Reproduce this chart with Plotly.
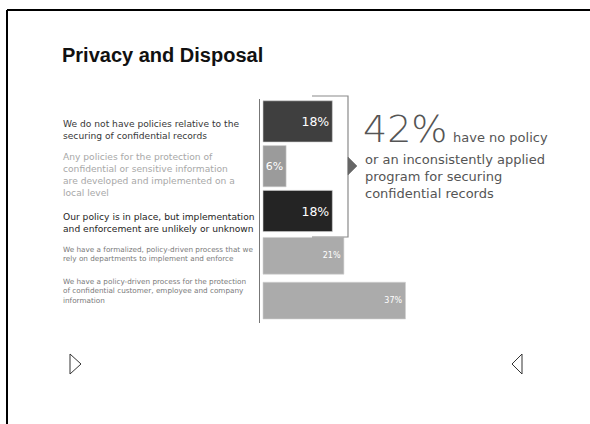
import plotly.graph_objects as go

W, H = 590, 424

# Survey responses, top to bottom
categories = [
    "We do not have policies relative to the<br>securing of confidential records",
    "Any policies for the protection of<br>confidential or sensitive information<br>are developed and implemented on a<br>local level",
    "Our policy is in place, but implementation<br>and enforcement are unlikely or unknown",
    "We have a formalized, policy-driven process that we<br>rely on departments to implement and enforce",
    "We have a policy-driven process for the protection<br>of confidential customer, employee and company<br>information",
]
shares = [18, 6, 18, 21, 37]
value_labels = ["18%", "6%", "18%", "21%", "37%"]

headline_value = "42%"
headline_text = "have no policy"
headline_rest = "or an inconsistently applied<br>program for securing<br>confidential records"

# Styling per bar
bar_colors = ["#3f3f3f", "#9b9b9b", "#242424", "#ababab", "#ababab"]
bar_widths = [0.92, 0.92, 0.92, 0.82, 0.82]
value_sizes = [12.5, 11, 12.5, 8, 8]
label_colors = ["#383838", "#a8a8a8", "#1e1e1e", "#7a7a7a", "#7a7a7a"]
label_sizes = [9.15, 9.15, 9.15, 7.25, 7.25]
label_centers_px = [130, 175.5, 222.5, 254, 291]

FONT = "DejaVu Sans"


def px(x):
    return x / W


def py(y):
    return 1 - y / H


fig = go.Figure()
fig.add_trace(go.Bar(
    x=shares,
    y=list(range(len(categories))),
    orientation="h",
    width=bar_widths,
    marker=dict(color=bar_colors, line=dict(color="#d0d0d0", width=0.6)),
    text=value_labels,
    textposition="inside",
    insidetextanchor="end",
    textangle=0,
    constraintext="none",
    textfont=dict(family=FONT, color="white", size=value_sizes),
    hoverinfo="skip",
    cliponaxis=False,
))

annotations = []
for text, color, size, cy in zip(categories, label_colors, label_sizes, label_centers_px):
    annotations.append(dict(
        x=px(61), y=py(cy), xref="paper", yref="paper",
        xanchor="left", yanchor="middle", align="left",
        text=text, showarrow=False,
        font=dict(family=FONT, size=size, color=color),
    ))

# Title
annotations.append(dict(
    x=px(60), y=py(55), xref="paper", yref="paper",
    xanchor="left", yanchor="middle",
    text="<b>Privacy and Disposal</b>", showarrow=False,
    font=dict(family="Liberation Sans", size=20, color="#111111"),
))

# Headline callout
annotations.append(dict(
    x=px(361), y=py(129), xref="paper", yref="paper",
    xanchor="left", yanchor="middle",
    text=headline_value, showarrow=False,
    font=dict(family=FONT, size=38, color="#555555", weight=200),
))
annotations.append(dict(
    x=px(451), y=py(137), xref="paper", yref="paper",
    xanchor="left", yanchor="middle",
    text=headline_text, showarrow=False,
    font=dict(family=FONT, size=13, color="#555555"),
))
annotations.append(dict(
    x=px(363), y=py(176.5), xref="paper", yref="paper",
    xanchor="left", yanchor="middle", align="left",
    text=headline_rest, showarrow=False,
    font=dict(family=FONT, size=13, color="#555555"),
))

shapes = []
# Frame lines
shapes.append(dict(type="line", xref="paper", yref="paper",
                   x0=px(7), x1=1, y0=py(10), y1=py(10),
                   line=dict(color="black", width=2)))
shapes.append(dict(type="line", xref="paper", yref="paper",
                   x0=px(7), x1=px(7), y0=py(10), y1=0,
                   line=dict(color="black", width=2)))
# Bracket around the first three responses
shapes.append(dict(type="path", xref="paper", yref="paper",
                   path=f"M {px(312)},{py(96)} L {px(348)},{py(96)} L {px(348)},{py(237)} L {px(312)},{py(237)}",
                   line=dict(color="#8a8a8a", width=1.2)))
shapes.append(dict(type="path", xref="paper", yref="paper",
                   path=f"M {px(348)},{py(157)} L {px(357)},{py(166)} L {px(348)},{py(175)} Z",
                   fillcolor="#666666", line=dict(color="#666666", width=0.5)))
# Navigation arrows
shapes.append(dict(type="path", xref="paper", yref="paper",
                   path=f"M {px(70)},{py(354)} L {px(81)},{py(364)} L {px(70)},{py(374)} Z",
                   line=dict(color="#333333", width=1)))
shapes.append(dict(type="path", xref="paper", yref="paper",
                   path=f"M {px(522)},{py(354)} L {px(512)},{py(364)} L {px(522)},{py(374)} Z",
                   line=dict(color="#333333", width=1)))

fig.update_layout(
    width=W, height=H,
    margin=dict(l=0, r=0, t=0, b=0),
    paper_bgcolor="white", plot_bgcolor="white",
    showlegend=False,
    bargap=0.1,
    xaxis=dict(domain=[px(260), 1], range=[-0.78, 84.9],
               showgrid=False, zeroline=False, showticklabels=False, ticks=""),
    yaxis=dict(domain=[py(323), py(99)], range=[4.5, -0.5],
               showgrid=False, zeroline=False, showticklabels=False, ticks="",
               showline=True, linecolor="#777777", linewidth=1.2),
    annotations=annotations,
    shapes=shapes,
    uniformtext=dict(mode=False),
)

fig.write_html("out.html")
